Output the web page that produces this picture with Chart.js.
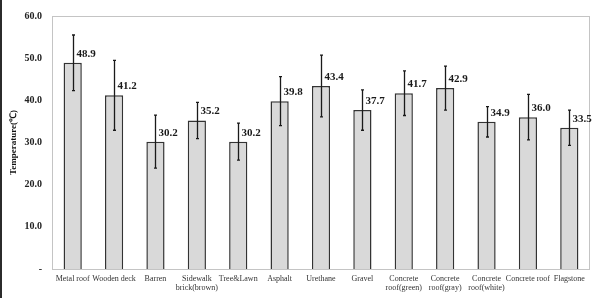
<!DOCTYPE html>
<html>
<head>
<meta charset="utf-8">
<script src="https://cdn.jsdelivr.net/npm/chart.js@4/dist/chart.umd.min.js"></script>
<style>
  html, body { margin: 0; padding: 0; background: #fff; overflow: hidden; }
  #wrap { position: relative; width: 597px; height: 298px; box-sizing: border-box; border-left: 2px solid #2b2b2b; }
  canvas { display: block; }
</style>
</head>
<body>
<div id="wrap"><canvas id="tempChart" width="595" height="298"></canvas></div>
<script>
// Surface temperature by material
const surfaces = [
  'Metal roof', 'Wooden deck', 'Barren', ['Sidewalk', 'brick(brown)'], 'Tree&Lawn',
  'Asphalt', 'Urethane', 'Gravel', ['Concrete', 'roof(green)'], ['Concrete', 'roof(gray)'],
  ['Concrete', 'roof(white)'], 'Concrete roof', 'Flagstone'
];
const meanTemps = [48.9, 41.2, 30.2, 35.2, 30.2, 39.8, 43.4, 37.7, 41.7, 42.9, 34.9, 36.0, 33.5];
const stdDevs   = [6.6, 8.3, 6.3, 4.3, 4.4, 5.8, 7.3, 4.8, 5.3, 5.2, 3.6, 5.4, 4.2];
const yTicks    = [0, 10, 20, 30, 40, 50, 60];

const serif = '"Liberation Serif", "Times New Roman", serif';

// frame around the plot area
const plotFrame = {
  id: 'plotFrame',
  beforeDatasetsDraw(chart) {
    const { ctx, chartArea: a } = chart;
    ctx.save();
    ctx.strokeStyle = '#c4c4c4';
    ctx.lineWidth = 1;
    ctx.strokeRect(a.left + 0.5, a.top + 0.5, a.right - a.left - 1, a.bottom - a.top);
    ctx.restore();
  }
};

// error bars and value labels
const errorBars = {
  id: 'errorBars',
  afterDatasetsDraw(chart) {
    const { ctx } = chart;
    const yScale = chart.scales.y;
    const meta = chart.getDatasetMeta(0);
    ctx.save();
    meta.data.forEach((bar, i) => {
      const x = Math.round(bar.x) + 0.5;
      const hi = yScale.getPixelForValue(meanTemps[i] + stdDevs[i]);
      const lo = yScale.getPixelForValue(meanTemps[i] - stdDevs[i]);
      ctx.strokeStyle = '#1a1a1a';
      ctx.lineWidth = 1.3;
      ctx.beginPath();
      ctx.moveTo(x, hi); ctx.lineTo(x, lo);
      ctx.moveTo(x - 1.5, hi); ctx.lineTo(x + 1.5, hi);
      ctx.moveTo(x - 1.5, lo); ctx.lineTo(x + 1.5, lo);
      ctx.stroke();

      ctx.fillStyle = '#1a1a1a';
      ctx.font = 'bold 11px ' + serif;
      ctx.textAlign = 'left';
      ctx.textBaseline = 'middle';
      ctx.fillText(meanTemps[i].toFixed(1), x + 3, yScale.getPixelForValue(meanTemps[i]) - 9);
    });
    ctx.restore();
  }
};

new Chart(document.getElementById('tempChart'), {
  type: 'bar',
  data: {
    labels: surfaces,
    datasets: [{
      data: meanTemps,
      backgroundColor: '#d9d9d9',
      borderColor: '#333333',
      borderWidth: 1.5,
      borderSkipped: 'bottom',
      barPercentage: 0.44,
      categoryPercentage: 1.0
    }]
  },
  options: {
    responsive: false,
    animation: false,
    devicePixelRatio: 1,
    layout: { padding: { top: 13, right: 7, left: 0, bottom: 0 } },
    plugins: {
      legend: { display: false },
      tooltip: { enabled: false }
    },
    scales: {
      x: {
        grid: { display: false, drawTicks: false },
        border: { display: false },
        afterFit: s => { s.height = 29; },
        ticks: {
          color: '#333',
          font: { family: serif, size: 8 },
          padding: 5,
          maxRotation: 0,
          autoSkip: false
        }
      },
      y: {
        min: 0,
        max: 60,
        afterFit: s => { s.width = 50; },
        afterBuildTicks: s => { s.ticks = yTicks.map(v => ({ value: v })); },
        grid: { display: false, drawTicks: false },
        border: { display: false },
        ticks: {
          color: '#222',
          font: { family: serif, size: 10, weight: 'bold' },
          padding: 10,
          callback: v => v === 0 ? '-' : v.toFixed(1)
        },
        title: {
          display: true,
          text: 'Temperature(℃)',
          color: '#111',
          font: { family: serif, size: 9, weight: 'bold' },
          padding: { top: 6, bottom: 0 }
        }
      }
    }
  },
  plugins: [plotFrame, errorBars]
});
</script>
</body>
</html>
